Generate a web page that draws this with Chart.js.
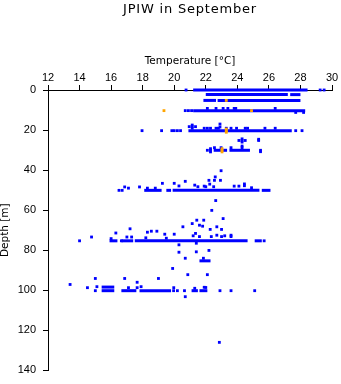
<!DOCTYPE html>
<html>
<head>
<meta charset="utf-8">
<script src="https://cdn.jsdelivr.net/npm/chart.js@4.4.1/dist/chart.umd.min.js"></script>
<style>
  html, body { margin: 0; padding: 0; background: #fff; }
  canvas { display: block; }
</style>
</head>
<body>
<canvas id="grafico" width="341" height="384"></canvas>
<script>
// Ejes
const tempTicks = [12, 14, 16, 18, 20, 22, 24, 26, 28, 30];
const depthTicks = [0, 20, 40, 60, 80, 100, 120, 140];

// Filas densas de puntos: [profundidad, T inicio, T fin]
const rows = [
    [0, 21.2, 28.45],
    [2.3, 22.0, 27.2],
    [2.3, 27.35, 28.0],
    [5.2, 21.85, 22.65],
    [5.2, 22.75, 28.0],
    [10.3, 21.2, 28.3],
    [20.3, 20.9, 27.45],
    [30.1, 22.5, 23.35],
    [30.1, 23.5, 24.8],
    [50.1, 18.1, 19.2],
    [50.1, 19.5, 19.8],
    [50.1, 19.9, 25.4],
    [50.1, 25.55, 26.1],
    [75.3, 15.9, 16.4],
    [75.3, 16.65, 17.4],
    [75.3, 17.5, 24.65],
    [75.3, 25.1, 25.55],
    [85.3, 21.6, 22.3],
    [98.4, 15.4, 16.2],
    [100.2, 15.4, 16.2],
    [100.2, 16.65, 17.6],
    [100.2, 17.8, 19.8],
    [100.2, 21.1, 21.5],
    [100.2, 21.6, 22.1]
];

// Puntos sueltos: [temperatura, profundidad]
const bluePoints = [
    [20.75, 0], [29.25, 0], [29.5, 0],
    [20.7, 10.3], [20.9, 10.3], [21.1, 10.3], [22.1, 9.2], [22.65, 9.2], [23.1, 9.2],
    [23.4, 9.2], [23.8, 9.2], [23.9, 9.2], [26.4, 9.2], [27.7, 11.2], [28.2, 11.2],
    [21.14, 18.3], [21.14, 17.5], [21.14, 19.1], [20.95, 18.3], [21.35, 18.3],
    [22.9, 17.0], [22.9, 18.5],
    [17.96, 20.3], [19.2, 20.3], [19.85, 20.3], [20.0, 20.3], [20.2, 20.3], [20.4, 20.3],
    [27.7, 20.3], [28.1, 20.3],
    [21.9, 19.1], [22.1, 19.1], [22.3, 19.1], [22.65, 19.1], [22.8, 19.1], [23.3, 19.1],
    [23.6, 19.1], [23.95, 19.1], [24.5, 19.1], [24.65, 19.1], [25.75, 19.1], [26.4, 19.1],
    [24.3, 25.2], [24.3, 24.4], [24.3, 26.0], [24.1, 25.2], [24.5, 25.2], [25.35, 25.2], [25.35, 24.6],
    [22.3, 30.1], [22.3, 29.3], [22.3, 30.9], [22.1, 30.1], [25.47, 30.1], [25.47, 30.8],
    [22.55, 28.8], [22.97, 28.8], [23.6, 28.8], [24.3, 28.8], [24.3, 28.0],
    [22.97, 40.3], [22.6, 43.4], [22.2, 45.1], [22.55, 45.1], [22.93, 45.1], [20.7, 45.6],
    [19.25, 46.6], [20.0, 46.6], [22.25, 47.0], [24.45, 46.9], [24.45, 47.8], [21.9, 48.0],
    [23.8, 48.0], [24.1, 48.0], [20.3, 47.9], [21.3, 47.5], [21.5, 48.3], [22.0, 48.3],
    [22.5, 48.3], [16.86, 48.4], [17.8, 48.4], [17.1, 49.0], [18.3, 49.0], [18.8, 49.0],
    [24.9, 48.8], [16.5, 50.1], [16.7, 50.1],
    [22.63, 55.2], [22.38, 60.1],
    [23.1, 64.2], [21.43, 65.0], [21.87, 65.0], [21.14, 66.7], [21.6, 67.5], [21.8, 68.0],
    [20.55, 68.3], [17.2, 69.3], [22.7, 68.3], [22.28, 69.6], [23.0, 69.6], [16.3, 71.4],
    [21.35, 71.6], [18.3, 71.0], [18.55, 70.5], [18.9, 70.5], [19.4, 72.0], [20.0, 72.0],
    [14.76, 73.4], [17.0, 73.4], [17.3, 73.4], [21.2, 72.8], [21.6, 73.2], [22.35, 73.2],
    [22.7, 72.5], [23.0, 73.2], [23.2, 72.8], [23.6, 72.5], [23.6, 73.2], [16.0, 74.2],
    [18.2, 73.8], [19.5, 74.0],
    [14.0, 75.3], [16.65, 75.3], [25.7, 75.3],
    [20.3, 77.3], [21.4, 76.5], [22.2, 80.1], [21.4, 80.8], [20.3, 81.0], [20.7, 84.0],
    [21.85, 84.0], [19.9, 89.1], [20.86, 92.2], [22.1, 92.2],
    [15.0, 94.1], [16.86, 94.1], [19.0, 94.1], [17.65, 96.0], [13.4, 97.1],
    [14.5, 98.7], [15.1, 98.2], [17.1, 98.7], [17.65, 98.7], [17.9, 98.2], [19.97, 98.7],
    [21.3, 99.0], [21.9, 98.5], [22.0, 98.6],
    [15.0, 100.2], [19.96, 100.2], [20.2, 100.2], [20.65, 100.2], [22.9, 100.2],
    [23.6, 100.2], [25.1, 100.2], [20.7, 103.2], [22.86, 126.0]
];

const orangePoints = [
    [23.3, 5.2], [19.35, 10.3], [24.9, 10.3], [23.3, 20.3], [23.3, 19.5], [23.3, 21.1],
    [23.03, 30.1], [23.03, 29.3], [23.03, 30.9]
];

const AZUL = '#0000ff';
const NARANJA = '#ffa500';
const FUENTE = "'Liberation Sans', Arial, sans-serif";
const FUENTE_TITULO = "'DejaVu Sans', sans-serif";

function toXY(lista) {
    return lista.map(([t, d]) => ({ x: t, y: d }));
}

const datasets = [
    {
        data: toXY(orangePoints),
        backgroundColor: NARANJA,
        pointStyle: 'rect',
        pointRadius: 2,
        borderWidth: 0,
        clip: false,
        order: 0
    },
    {
        data: toXY(bluePoints),
        backgroundColor: AZUL,
        pointStyle: 'rect',
        pointRadius: 2,
        borderWidth: 0,
        clip: false,
        order: 1
    }
];

rows.forEach(([d, t0, t1]) => {
    datasets.push({
        data: [{ x: t0, y: d }, { x: t1, y: d }],
        showLine: true,
        borderColor: AZUL,
        borderWidth: 3,
        borderCapStyle: 'butt',
        pointRadius: 0,
        clip: false,
        order: 2
    });
});

// Titulo centrado sobre el area del grafico
const tituloPlugin = {
    id: 'tituloArea',
    afterDraw(chart) {
        const { ctx, chartArea } = chart;
        ctx.save();
        ctx.font = `13px ${FUENTE_TITULO}`;
        if ('letterSpacing' in ctx) ctx.letterSpacing = '0.8px';
        ctx.fillStyle = '#000';
        ctx.textAlign = 'center';
        ctx.textBaseline = 'middle';
        ctx.fillText('JPIW in September', (chartArea.left + chartArea.right) / 2, 10);
        ctx.restore();
    }
};

new Chart(document.getElementById('grafico'), {
    type: 'scatter',
    data: { datasets },
    options: {
        responsive: false,
        animation: false,
        events: [],
        layout: { padding: { top: 50, left: 0, right: 9, bottom: 9 } },
        plugins: {
            legend: { display: false },
            tooltip: { enabled: false }
        },
        scales: {
            x: {
                type: 'linear',
                position: 'top',
                min: 12,
                max: 30,
                afterBuildTicks(scale) {
                    scale.ticks = tempTicks.map(v => ({ value: v }));
                },
                afterFit(scale) {
                    scale.height = 40;
                },
                grid: { drawOnChartArea: false, drawTicks: true, tickLength: 5, color: '#000' },
                border: { display: true, color: '#000', width: 1 },
                ticks: { padding: 0, color: '#000', font: { family: FUENTE, size: 11 }, maxRotation: 0 },
                title: {
                    display: true,
                    text: 'Temperature [°C]',
                    color: '#000',
                    font: { family: FUENTE_TITULO, size: 10.5 },
                    padding: { top: 4.7, bottom: 0 }
                }
            },
            y: {
                type: 'linear',
                position: 'left',
                reverse: true,
                min: 0,
                max: 140,
                afterBuildTicks(scale) {
                    scale.ticks = depthTicks.map(v => ({ value: v }));
                },
                afterFit(scale) {
                    scale.width = 48;
                },
                grid: { drawOnChartArea: false, drawTicks: true, tickLength: 5, color: '#000' },
                border: { display: true, color: '#000', width: 1 },
                ticks: { padding: 7, color: '#000', font: { family: FUENTE, size: 11 } },
                title: {
                    display: true,
                    text: 'Depth [m]',
                    color: '#000',
                    font: { family: FUENTE_TITULO, size: 10.5, lineHeight: 1 },
                    padding: { top: 0, bottom: 0 }
                }
            }
        }
    },
    plugins: [tituloPlugin]
});
</script>
</body>
</html>
